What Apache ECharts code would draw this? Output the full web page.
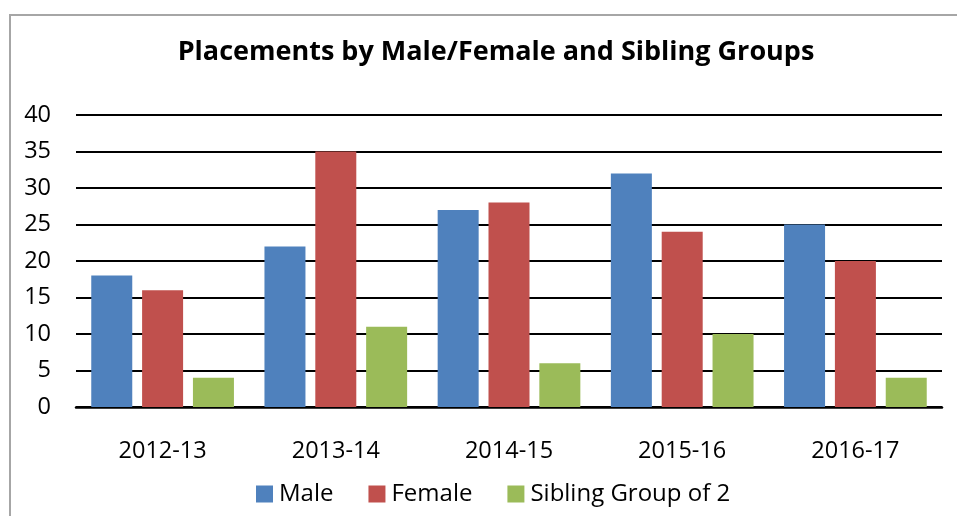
<!DOCTYPE html>
<html>
<head>
<meta charset="utf-8">
<script src="https://cdn.jsdelivr.net/npm/echarts@6/dist/echarts.min.js"></script>
<style>
  html, body { margin: 0; padding: 0; background: #fff; overflow: hidden; }
  #frame { position: absolute; left: 9px; top: 14px; width: 1000px; height: 600px;
           border-left: 2px solid #a6a6a6; border-top: 2px solid #a6a6a6; }
  #chart { position: absolute; left: 0; top: 0; width: 957px; height: 516px; }
</style>
</head>
<body>
<div id="frame"></div>
<div id="chart"></div>
<script>
// Placements per year, split by gender plus sibling groups of two.
const years = ['2012-13', '2013-14', '2014-15', '2015-16', '2016-17'];
const male = [18, 22, 27, 32, 25];
const female = [16, 35, 28, 24, 20];
const siblingGroup2 = [4, 11, 6, 10, 4];
const yTicks = [0, 5, 10, 15, 20, 25, 30, 35, 40];

const FONT = '"Open Sans", "Noto Sans", sans-serif';

const chart = echarts.init(document.getElementById('chart'), null, { renderer: 'canvas' });

function barSeries(name, data, color) {
  return {
    name,
    type: 'bar',
    data,
    barWidth: 41,
    barGap: '24%',
    itemStyle: { color },
  };
}

chart.setOption({
  animation: false,
  backgroundColor: 'transparent',
  title: {
    text: 'Placements by Male/Female and Sibling Groups',
    left: 491,
    top: 34,
    textAlign: 'center',
    textStyle: { fontFamily: FONT, fontWeight: 'bold', fontSize: 27, color: '#000' },
  },
  legend: {
    bottom: 5,
    left: 251,
    itemWidth: 17,
    itemHeight: 17,
    itemGap: 35,
    icon: 'rect',
    textStyle: { fontFamily: FONT, fontSize: 24, color: '#000', padding: [0, 0, 0, 1] },
  },
  grid: { left: 76, right: 15, top: 115, bottom: 109, containLabel: false },
  xAxis: {
    type: 'category',
    data: years,
    axisTick: { show: false },
    axisLine: { lineStyle: { color: '#000', width: 2.5 } },
    axisLabel: { fontFamily: FONT, fontSize: 23.5, color: '#000', margin: 32 },
  },
  yAxis: {
    type: 'value',
    min: yTicks[0],
    max: yTicks[yTicks.length - 1],
    interval: 5,
    axisLine: { show: false },
    axisTick: { show: false },
    axisLabel: { fontFamily: FONT, fontSize: 23.5, color: '#000', margin: 25 },
    splitLine: { lineStyle: { color: '#000', width: 2 } },
  },
  series: [
    barSeries('Male', male, '#4f81bd'),
    barSeries('Female', female, '#c0504d'),
    barSeries('Sibling Group of 2', siblingGroup2, '#9bbb59'),
  ],
});
</script>
</body>
</html>
